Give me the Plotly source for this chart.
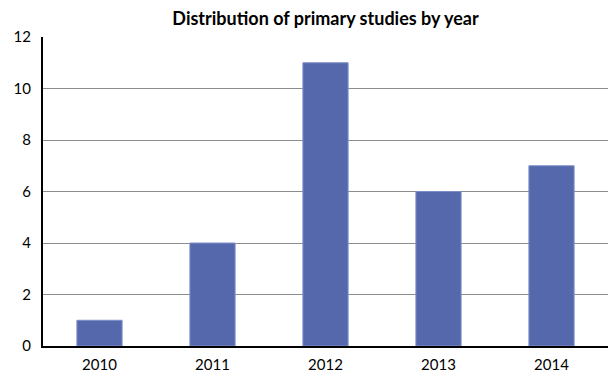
import plotly.graph_objects as go

# Number of primary studies published per year
years = ["2010", "2011", "2012", "2013", "2014"]
studies = [1, 4, 11, 6, 7]

y_ticks = [0, 2, 4, 6, 8, 10, 12]

fig = go.Figure(
    go.Bar(
        x=years,
        y=studies,
        width=0.4,
        marker=dict(color="#5568AB", line=dict(color="#7E8FC8", width=1)),
    )
)

fig.update_layout(
    width=611,
    height=376,
    margin=dict(l=43, r=3, t=37, b=28),
    paper_bgcolor="white",
    plot_bgcolor="white",
    showlegend=False,
    title=dict(
        text="<b>Distribution of primary studies by year</b>",
        x=(43 + 608) / 2 / 611,
        xanchor="center",
        y=1 - 19 / 376,
        yanchor="middle",
        font=dict(family="Lato, Open Sans, sans-serif", size=18, color="black"),
    ),
    font=dict(family="Lato, Open Sans, sans-serif", size=15, color="black"),
)

fig.update_xaxes(
    showline=True,
    linecolor="black",
    linewidth=2,
    ticks="",
    showgrid=False,
    ticklabelstandoff=4,
    tickfont=dict(size=15),
)

fig.update_yaxes(
    range=[0, 12],
    tickvals=y_ticks,
    showline=True,
    linecolor="black",
    linewidth=2,
    showgrid=True,
    gridcolor="#8C8C8C",
    gridwidth=1,
    zeroline=False,
    ticks="",
    ticklabelstandoff=7,
    tickfont=dict(size=15),
)

fig.write_html("out.html")
